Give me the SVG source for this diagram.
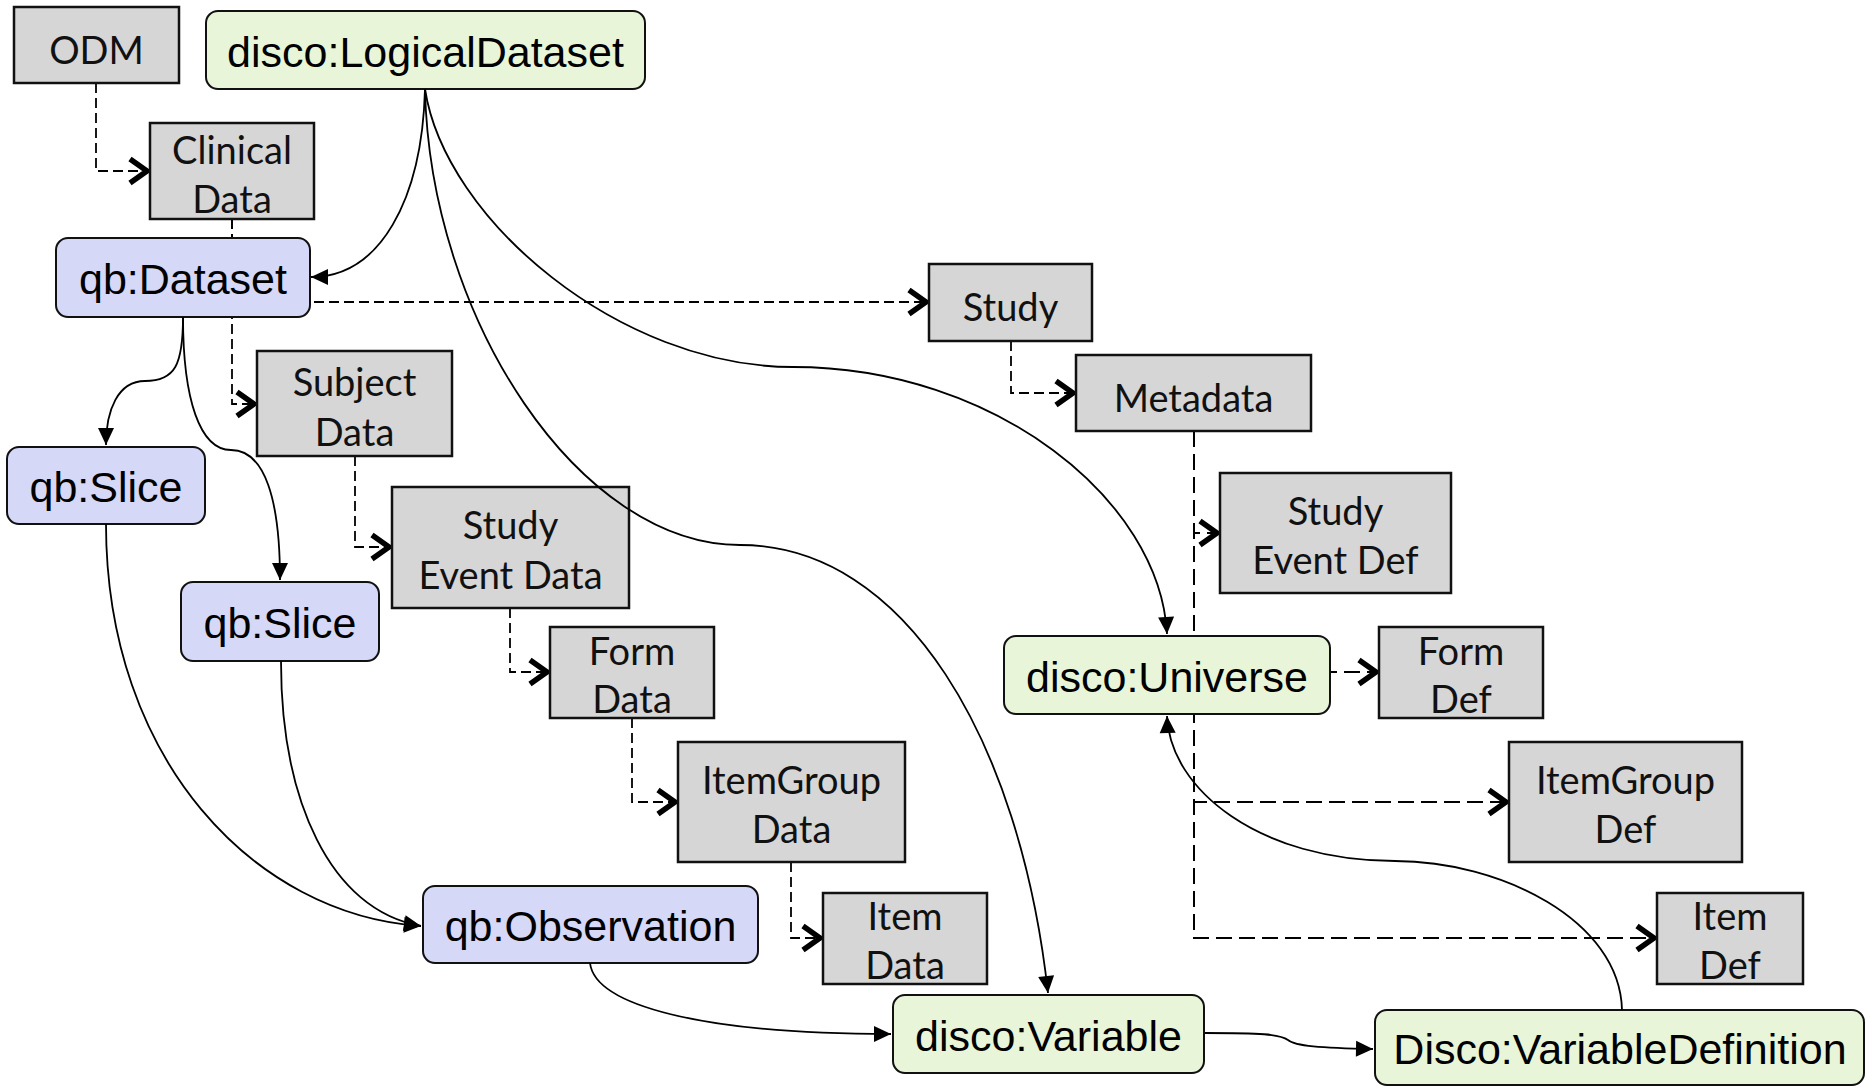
<svg xmlns="http://www.w3.org/2000/svg" width="1867" height="1087" viewBox="0 0 1867 1087">
<style>
.bg{fill:#fff}
.gray rect{fill:#D6D6D6;stroke:#111;stroke-width:2.5}
.gray text{font-family:Lato,"Open Sans","Noto Sans",sans-serif;font-size:38px;fill:#111;text-anchor:middle}
.green rect{fill:#E8F5D8;stroke:#111;stroke-width:2}
.blue rect{fill:#D5D8F6;stroke:#111;stroke-width:2}
.green text,.blue text{font-family:"Liberation Sans",Arial,sans-serif;font-size:43px;fill:#000;text-anchor:middle}
.dash{fill:none;stroke:#000;stroke-width:1.8;stroke-dasharray:10 5;marker-end:url(#open)}
.dash2{fill:none;stroke:#000;stroke-width:2;stroke-dasharray:16 7;marker-end:url(#open)}
.solid{fill:none;stroke:#000;stroke-width:1.8;marker-end:url(#arr)}
.chev{fill:none;stroke:#000;stroke-width:5.5;stroke-linejoin:miter;stroke-dasharray:none}
</style>
<defs>
<marker id="open" markerUnits="userSpaceOnUse" markerWidth="34" markerHeight="36" viewBox="0 0 34 36" refX="29" refY="18" orient="auto" overflow="visible">
<path class="chev" d="M9,6 L26,18 L9,30"/>
</marker>
<marker id="arr" markerUnits="userSpaceOnUse" markerWidth="18" markerHeight="16" viewBox="0 0 18 16" refX="17" refY="8" orient="auto" overflow="visible">
<path d="M0,0 L17,8 L0,16 Z" fill="#000"/>
</marker>
</defs>
<rect class="bg" x="0" y="0" width="1867" height="1087"/>

<g id="connectors-dashed">
<path class="dash" d="M96,83 V171 H150"/>
<path class="dash" d="M232,219 V404 H257"/>
<path class="dash" d="M232,219 V302 H929"/>
<path class="dash" d="M355,456 V547 H392"/>
<path class="dash" d="M510,608 V672 H550"/>
<path class="dash" d="M632,718 V802 H678"/>
<path class="dash" d="M791,862 V938 H823"/>
<path class="dash" d="M1011,341 V393 H1076"/>
<path class="dash2" d="M1194,431 V533 H1220"/>
<path class="dash2" d="M1194,431 V672 H1379"/>
<path class="dash2" d="M1194,431 V802 H1509"/>
<path class="dash2" d="M1194,431 V938 H1657"/>
</g>

<g id="odm" class="gray"><rect x="14" y="7" width="165" height="76"/><text x="96.5" y="64">ODM</text></g>
<g id="logicaldataset" class="green"><rect x="206" y="11" width="439" height="78" rx="12"/><text x="425.5" y="67">disco:LogicalDataset</text></g>
<g id="clinicaldata" class="gray"><rect x="150" y="123" width="164" height="96"/><text x="232" y="164">Clinical</text><text x="232" y="213">Data</text></g>
<g id="qbdataset" class="blue"><rect x="56" y="238" width="254" height="79" rx="12"/><text x="183" y="294">qb:Dataset</text></g>
<g id="study" class="gray"><rect x="929" y="264" width="163" height="77"/><text x="1010.5" y="321">Study</text></g>
<g id="metadata" class="gray"><rect x="1076" y="355" width="235" height="76"/><text x="1193.5" y="412">Metadata</text></g>
<g id="subjectdata" class="gray"><rect x="257" y="351" width="195" height="105"/><text x="354.5" y="396">Subject</text><text x="354.5" y="446">Data</text></g>
<g id="slice1" class="blue"><rect x="7" y="447" width="198" height="77" rx="12"/><text x="106" y="502">qb:Slice</text></g>
<g id="studyeventdata" class="gray"><rect x="392" y="487" width="237" height="121"/><text x="510.5" y="539">Study</text><text x="510.5" y="589">Event Data</text></g>
<g id="slice2" class="blue"><rect x="181" y="582" width="198" height="79" rx="12"/><text x="280" y="638">qb:Slice</text></g>
<g id="studyeventdef" class="gray"><rect x="1220" y="473" width="231" height="120"/><text x="1335.5" y="525">Study</text><text x="1335.5" y="574">Event Def</text></g>
<g id="universe" class="green"><rect x="1004" y="636" width="326" height="78" rx="12"/><text x="1167" y="692">disco:Universe</text></g>
<g id="formdef" class="gray"><rect x="1379" y="627" width="164" height="91"/><text x="1461" y="665">Form</text><text x="1461" y="713">Def</text></g>
<g id="formdata" class="gray"><rect x="550" y="627" width="164" height="91"/><text x="632" y="665">Form</text><text x="632" y="713">Data</text></g>
<g id="itemgroupdata" class="gray"><rect x="678" y="742" width="227" height="120"/><text x="791.5" y="794">ItemGroup</text><text x="791.5" y="843">Data</text></g>
<g id="itemgroupdef" class="gray"><rect x="1509" y="742" width="233" height="120"/><text x="1625.5" y="794">ItemGroup</text><text x="1625.5" y="843">Def</text></g>
<g id="observation" class="blue"><rect x="423" y="886" width="335" height="77" rx="12"/><text x="590.5" y="941">qb:Observation</text></g>
<g id="itemdata" class="gray"><rect x="823" y="893" width="164" height="91"/><text x="905" y="930">Item</text><text x="905" y="979">Data</text></g>
<g id="itemdef" class="gray"><rect x="1657" y="893" width="146" height="91"/><text x="1730" y="930">Item</text><text x="1730" y="979">Def</text></g>
<g id="variable" class="green"><rect x="893" y="995" width="311" height="78" rx="12"/><text x="1048.5" y="1051">disco:Variable</text></g>
<g id="variabledefinition" class="green"><rect x="1375" y="1010" width="489" height="75" rx="12"/><text x="1620" y="1064">Disco:VariableDefinition</text></g>

<g id="connectors-solid">
<path class="solid" d="M425,89 C422,200 380,277 311,277"/>
<path class="solid" d="M425,89 C430,320 580,545 740,545 C905,545 1020,740 1048,993"/>
<path class="solid" d="M425,89 C445,220 620,367 793,367 C995,367 1160,500 1167,634"/>
<path class="solid" d="M183,317 C183,365 175,381 145,381 C118,381 106,410 106,445"/>
<path class="solid" d="M183,317 C183,400 200,450 231,450 C265,450 280,500 280,580"/>
<path class="solid" d="M106,524 C106,760 255,915 421,926"/>
<path class="solid" d="M281,661 C281,800 330,910 421,926"/>
<path class="solid" d="M590,963 C595,1005 700,1034 891,1034"/>
<path class="solid" d="M1205,1033 C1260,1033 1280,1034 1288,1040 C1295,1046 1320,1048 1373,1049"/>
<path class="solid" d="M1622,1010 C1620,920 1500,861 1395,861 C1260,861 1170,790 1167,716"/>
</g>
</svg>
